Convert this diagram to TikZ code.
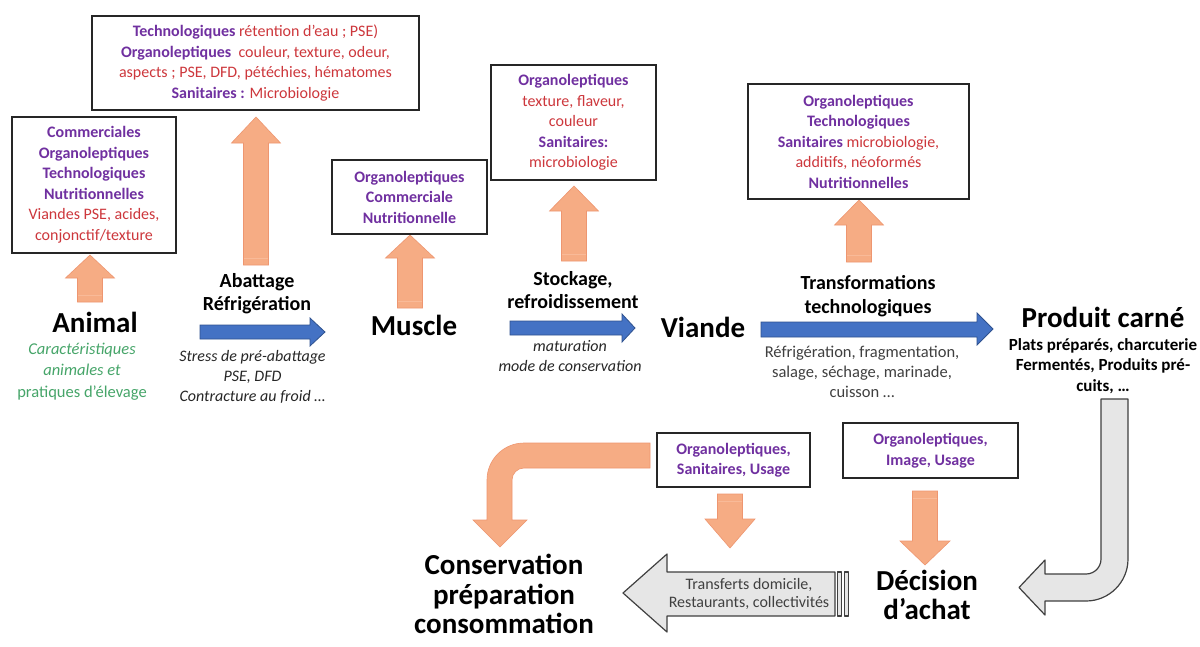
\documentclass[tikz,border=0pt]{standalone}
\usepackage{fontspec}
\setmainfont{Carlito}
\definecolor{purp}{RGB}{112,48,160}
\definecolor{redt}{RGB}{205,55,60}
\definecolor{greent}{RGB}{70,165,105}
\definecolor{grayt}{RGB}{64,64,64}
\definecolor{orfill}{RGB}{246,172,132}
\definecolor{ordraw}{RGB}{238,150,112}
\definecolor{orband}{RGB}{249,186,152}
\definecolor{bluefill}{RGB}{68,114,196}
\definecolor{bluedraw}{RGB}{47,82,143}
\definecolor{grfill}{RGB}{230,230,230}
\definecolor{grdraw}{RGB}{64,64,64}
\tikzset{
 box/.style={draw=black!85, line width=1.6pt, fill=white, inner sep=0pt, align=center, font=\fontsize{16}{20.5}\selectfont},
 big/.style={font=\fontsize{29}{29.5}\selectfont\bfseries, align=center, inner sep=0pt},
 stage/.style={font=\fontsize{20}{23.5}\selectfont\bfseries, align=center, inner sep=0pt},
 note/.style={font=\fontsize{16}{20}\selectfont, align=center, inner sep=0pt},
 orarr/.style={fill=orfill, draw=ordraw, line width=0.6pt},
 orbandline/.style={draw=orband, line width=1pt},
 bluearr/.style={fill=bluefill, draw=bluedraw, line width=0.8pt},
 grarr/.style={fill=grfill, draw=grdraw, line width=1.2pt, line join=round},
}
\newcommand\tpur[1]{\textcolor{purp}{\bfseries #1}}
\newcommand\tred[1]{\textcolor{redt}{#1}}
\newcommand\UpArr[4]{%
 \draw[orarr] (#1-12.5,#2) -- (#1-12.5,#3) -- (#1-24.5,#3) -- (#1,#4) -- (#1+24.5,#3) -- (#1+12.5,#3) -- (#1+12.5,#2) -- cycle;
 \draw[orbandline] (#1-12,#2-7) -- (#1+12,#2-7);}
\newcommand\DnArr[4]{%
 \draw[orarr] (#1-12.5,#2) -- (#1-12.5,#3) -- (#1-25,#3) -- (#1,#4) -- (#1+25,#3) -- (#1+12.5,#3) -- (#1+12.5,#2) -- cycle;
 \draw[orbandline] (#1-12,#2+7) -- (#1+12,#2+7);}
\begin{document}
\begin{tikzpicture}[x=1pt,y=-1pt]
\useasboundingbox[fill=white] (0,0) rectangle (1200,646);

% ---- orange up arrows
\UpArr{90}{302}{278}{255}
\UpArr{256}{265}{143}{117}
\UpArr{410}{308}{258}{235}
\UpArr{574}{261}{211}{186}
\UpArr{859}{262}{225}{200}
% ---- orange down arrows
\DnArr{730}{494}{519}{548}
\DnArr{925}{491}{541}{565}

% ---- blue process arrows
\draw[bluearr] (200,325) -- (310,325) -- (310,318) -- (325,332) -- (310,346) -- (310,339) -- (200,339) -- cycle;
\draw[bluearr] (510,321) -- (622,321) -- (622,314) -- (635,328) -- (622,342) -- (622,335) -- (510,335) -- cycle;
\draw[bluearr] (761,322) -- (977,322) -- (977,313) -- (993,329) -- (977,345) -- (977,337) -- (761,337) -- cycle;

% ---- orange bent arrow
\draw[orarr] (650,443) -- (524,443) .. controls (503.6,443) and (487,459.6) .. (487,480) -- (487,520) -- (473,520) -- (500,547) -- (527,520) -- (512,520) -- (512,480) .. controls (512,473.4) and (517.4,468) .. (524,468) -- (650,468) -- cycle;

% ---- gray U arrow
\draw[grarr] (1101,399) -- (1128,399) -- (1128,559) .. controls (1128,582.2) and (1109.2,601) .. (1086,601) -- (1045,601) -- (1045,615) -- (1019,587.5) -- (1045,560) -- (1045,574) -- (1086,574) .. controls (1094.3,574) and (1101,567.3) .. (1101,559) -- cycle;

% ---- gray striped left arrow
\draw[grarr] (623,593) -- (667,554) -- (667,572) -- (835,572) -- (835,616) -- (667,616) -- (667,632) -- cycle;
\draw[grarr] (837.5,572) rectangle (841.5,616);
\draw[grarr] (844.5,572) rectangle (848.5,616);
\node[font=\fontsize{16}{18}\selectfont, text=grayt, inner sep=0pt] (tr1) at (749,585) {Transferts domicile,};
\node[font=\fontsize{16}{18}\selectfont, text=grayt, inner sep=0pt] (tr2) at (749,603) {Restaurants, collectivités};

% ---- boxes
\node[box, minimum width=327pt, minimum height=94pt] (b1) at (255.5,63) {%
\tpur{Technologiques} \tred{rétention d’eau ; PSE)}\\
\tpur{Organoleptiques}\ \ \tred{couleur, texture, odeur,}\\
\tred{aspects ; PSE, DFD, pétéchies, hématomes}\\
\tpur{Sanitaires :} \tred{Microbiologie}};
\node[box, minimum width=164pt, minimum height=136pt] (b2) at (94,185) {%
\tpur{Commerciales}\\ \tpur{Organoleptiques}\\ \tpur{Technologiques}\\ \tpur{Nutritionnelles}\\
\tred{Viandes PSE, acides,}\\ \tred{conjonctif/texture}};
\node[box, minimum width=155pt, minimum height=74pt] (b3) at (409.5,197) {%
\tpur{Organoleptiques}\\ \tpur{Commerciale}\\ \tpur{Nutritionnelle}};
\node[box, minimum width=165pt, minimum height=115pt] (b4) at (573.5,122.5) {%
\tpur{Organoleptiques}\\ \tred{texture, flaveur,}\\ \tred{couleur}\\ \tpur{Sanitaires:}\\ \tred{microbiologie}};
\node[box, minimum width=221pt, minimum height=115pt] (b5) at (858.5,141.5) {%
\tpur{Organoleptiques}\\ \tpur{Technologiques}\\ \tpur{Sanitaires} \tred{microbiologie,}\\
\tred{additifs, néoformés}\\ \tpur{Nutritionnelles}};
\node[box, minimum width=153pt, minimum height=54pt] (b6) at (733.5,460) {%
\tpur{Organoleptiques,}\\ \tpur{Sanitaires, Usage}};
\node[box, minimum width=175pt, minimum height=55pt] (b7) at (930.5,450.5) {%
\tpur{Organoleptiques,}\\ \tpur{Image, Usage}};

% ---- main stage labels
\node[big] (animal) at (95,322) {Animal};
\node[big] (muscle) at (414,325) {Muscle};
\node[big] (viande) at (703,327) {Viande};
\node[big] (produit) at (1103,317) {Produit carné};
\node[big] (decision) at (927,595) {Décision\\d’achat};
\node[big] (conso) at (504,594) {Conservation\\préparation\\consommation};

% ---- process labels
\node[stage] (abat) at (257,293.5) {Abattage\\Réfrigération};
\node[stage] (stock) at (573,290) {Stockage,\\refroidissement};
\node[stage] (transf) at (868,296) {Transformations\\technologiques};

% ---- notes
\node[font=\fontsize{16.5}{21.5}\selectfont, text=greent, align=center, inner sep=0pt] (carac) at (82,371.5) {%
\textit{Caractéristiques}\\ \textit{animales et}\\ pratiques d’élevage};
\node[note, font=\fontsize{16}{20}\selectfont\itshape, text=black!85] (stress) at (252.5,377) {%
Stress de pré-abattage\\ PSE, DFD\\ Contracture au froid …};
\node[note, font=\fontsize{16}{20}\selectfont\itshape, text=black!85] (matur) at (570,356) {%
maturation\\ mode de conservation};
\node[note, font=\fontsize{16.5}{20}\selectfont, text=grayt] (refr) at (862,372) {%
Réfrigération, fragmentation,\\ salage, séchage, marinade,\\ cuisson …};
\node[note, font=\fontsize{17}{20.5}\selectfont\bfseries] (plats) at (1103,366) {%
Plats préparés, charcuterie\\ Fermentés, Produits pré-\\ cuits, …};
\end{tikzpicture}
\end{document}
